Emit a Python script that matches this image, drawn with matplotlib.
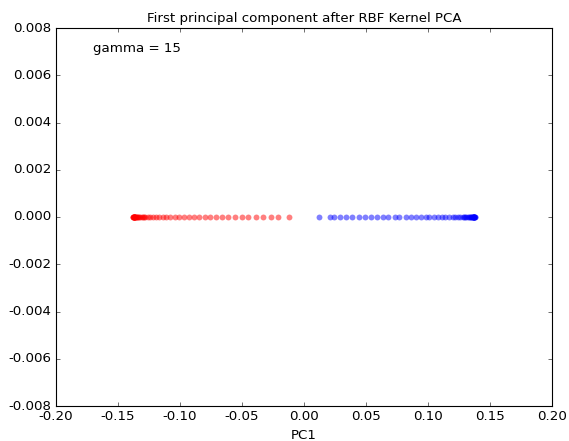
import matplotlib

matplotlib.use("Agg")
import matplotlib.pyplot as plt
import numpy as np

plt.style.use("classic")
plt.rcParams["font.family"] = ["DejaVu Sans"]

# PC1 values (class 0 = red, class 1 = blue)
pc1_red = [
    -0.012, -0.021, -0.027, -0.033, -0.039, -0.045, -0.050, -0.056, -0.061, -0.066,
    -0.071, -0.076, -0.080, -0.085, -0.089, -0.093, -0.097, -0.101, -0.104, -0.108,
    -0.111, -0.114, -0.117, -0.119, -0.122, -0.124, -0.126, -0.128, -0.129, -0.130,
    -0.131, -0.132, -0.133, -0.134, -0.1345, -0.135, -0.1355, -0.136, -0.1362, -0.1364,
    -0.1366, -0.1368, -0.1370, -0.1371, -0.1372, -0.1374, -0.1375, -0.1376, -0.1377, -0.1378,
]
pc1_blue = [
    0.012, 0.021, 0.024, 0.029, 0.034, 0.039, 0.044, 0.049, 0.054, 0.059,
    0.064, 0.068, 0.073, 0.077, 0.082, 0.086, 0.090, 0.094, 0.098, 0.101,
    0.105, 0.108, 0.111, 0.114, 0.117, 0.120, 0.122, 0.124, 0.126, 0.128,
    0.129, 0.130, 0.131, 0.132, 0.133, 0.134, 0.1345, 0.135, 0.1355, 0.136,
    0.1362, 0.1364, 0.1366, 0.1368, 0.1370, 0.1371, 0.1372, 0.1374, 0.1375, 0.1376,
]
yticks = [-0.008, -0.006, -0.004, -0.002, 0.000, 0.002, 0.004, 0.006, 0.008]
xticks = [-0.20, -0.15, -0.10, -0.05, 0.00, 0.05, 0.10, 0.15, 0.20]

dpi = 80
fig = plt.figure(figsize=(569 / dpi, 441 / dpi), dpi=dpi, facecolor="white")
ax = fig.add_axes([56 / 569, 35 / 441, 496 / 569, 378 / 441])

ax.scatter(pc1_red, np.zeros(len(pc1_red)), color="red", marker="o", alpha=0.5, s=28, linewidths=0)
ax.scatter(pc1_blue, np.zeros(len(pc1_blue)), color="blue", marker="o", alpha=0.5, s=28, linewidths=0)

ax.set_xlim(-0.2, 0.2)
ax.set_ylim(-0.008, 0.008)
ax.set_xticks(xticks)
ax.set_yticks(yticks)
ax.set_xticklabels([f"{v:.2f}" for v in xticks])
ax.set_yticklabels([f"{v:.3f}" for v in yticks])
ax.set_xlabel("PC1")
ax.set_title("First principal component after RBF Kernel PCA", fontsize=12)
ax.text(-0.17, 0.007, "gamma = 15", fontsize=12)

fig.savefig("out.png", dpi=dpi, facecolor="white")
